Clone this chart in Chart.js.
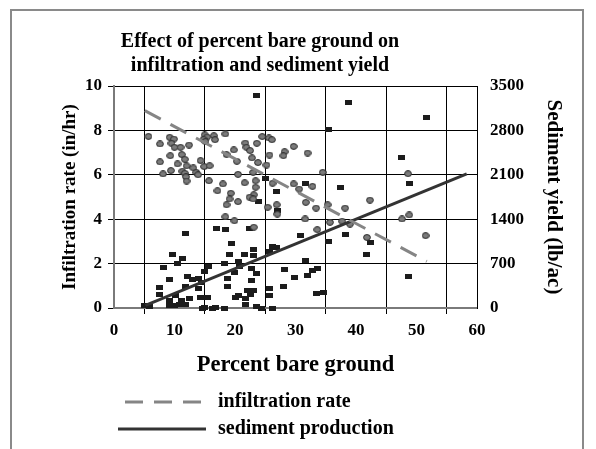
<!DOCTYPE html>
<html>
<head>
<meta charset="utf-8">
<script src="https://cdn.jsdelivr.net/npm/chart.js@4.4.0/dist/chart.umd.min.js"></script>
<style>
  html, body { margin: 0; padding: 0; background: #fff; }
  #wrap { width: 596px; height: 449px; position: relative; }
</style>
</head>
<body>
<div id="wrap"><canvas id="chart" width="596" height="449"></canvas></div>
<script>
// Titles and tick labels
const titleLines = ['Effect of percent bare ground on', 'infiltration and sediment yield'];
const xTickLabels = ['0', '10', '20', '30', '40', '50', '60'];
const yTickLabels = ['0', '2', '4', '6', '8', '10'];
const y2TickLabels = ['0', '700', '1400', '2100', '2800', '3500'];

// Infiltration rate (in/hr) against percent bare ground
const infilX = [5.7, 7.6, 9.2, 9.9, 9.5, 10.0, 11.0, 12.4, 11.2, 9.3, 11.7, 7.6, 10.5, 12.0, 13.1, 14.3,
  9.4, 11.3, 11.7, 8.1, 13.6, 13.9, 11.9, 12.0, 15.0, 15.4, 14.8, 15.1,
  16.5, 16.7, 18.4, 21.7, 21.9, 22.5, 23.6, 24.5, 25.6, 26.1, 19.8, 18.6, 22.8, 23.8, 25.7, 28.2, 28.0, 29.7,
  20.3, 14.9, 15.8, 25.2, 20.5, 23.0, 15.7, 18.0, 21.6, 23.4, 26.2, 29.7, 17.1, 19.3, 23.4, 23.1, 22.4, 23.0,
  19.1, 20.5, 18.6, 25.4, 26.9, 27.0, 18.4, 19.9, 23.1,
  32.0, 34.5, 30.6, 32.8, 31.7, 33.4, 35.3, 38.2, 42.3, 31.6, 33.6, 35.7, 37.7, 39.0, 41.8,
  48.6, 47.6, 48.8, 51.5];
const infilY = [7.73, 7.39, 7.69, 7.61, 7.42, 7.24, 7.24, 7.34, 6.91, 6.86, 6.70, 6.58, 6.49, 6.40, 6.31, 6.64,
  6.19, 6.16, 6.07, 6.04, 6.11, 6.00, 5.91, 5.72, 7.80, 7.70, 7.60, 7.50,
  7.76, 7.58, 7.84, 7.43, 7.24, 7.09, 7.42, 7.72, 7.66, 7.58, 7.12, 6.91, 6.76, 6.55, 6.89, 7.04, 6.86, 7.28,
  6.61, 6.37, 6.41, 6.44, 6.02, 6.11, 5.73, 5.59, 5.64, 5.73, 5.62, 5.59, 5.28, 5.17, 5.44, 5.10, 4.99, 4.91,
  4.91, 4.79, 4.65, 4.54, 4.65, 4.23, 4.11, 3.93, 3.64,
  6.98, 6.11, 5.36, 5.48, 4.76, 4.50, 4.65, 4.50, 4.86, 4.01, 3.53, 3.86, 3.91, 3.78, 3.18,
  6.05, 4.01, 4.19, 3.26];

// Sediment yield (lb/ac) against percent bare ground
const sedX = [11.9, 9.6, 11.4, 10.5, 8.1, 9.2, 12.1, 12.9, 13.9, 7.6, 7.6, 11.9, 13.9, 14.5, 9.2, 10.2,
  11.2, 12.4, 10.9, 11.9, 9.2, 10.0, 5.1, 5.9, 14.3, 14.7,
  15.7, 15.0, 15.4, 14.9, 16.7,
  23.5, 26.8, 27.0, 23.9, 25.0, 16.9, 18.4, 22.4, 19.4, 26.2, 26.9, 23.0, 19.1, 21.6, 25.7, 23.0, 20.5,
  18.2, 20.8, 22.8, 19.9, 23.6, 28.2, 22.8, 18.7, 18.7, 25.7, 28.0, 22.0, 23.0, 22.6, 25.7, 20.1, 20.5,
  21.7, 21.7, 23.6, 24.4, 26.2, 16.2, 18.3,
  38.8, 35.4, 31.6, 37.5, 30.8, 38.3, 35.5, 42.4, 41.8, 31.7, 33.6, 32.8, 32.0, 29.8, 33.4, 34.7,
  51.6, 47.6, 48.8, 48.6];
const sedY = [1172, 846, 773, 694, 631, 457, 500, 457, 468, 326, 205, 336, 315, 400, 126, 194,
  126, 153, 52, 63, 36, 36, 47, 20, 168, 0,
  662, 573, 168, 15, 10,
  3358, 1834, 1534, 1676, 2045, 1261, 1230, 1257, 1020, 973, 946, 920, 851, 851, 888, 825, 730,
  694, 651, 615, 562, 547, 604, 430, 468, 340, 300, 342, 273, 273, 205, 194, 168, 194,
  142, 63, 20, 0, 0, 0, 0,
  3237, 2822, 1955, 1892, 1140, 1151, 1051, 1025, 851, 746, 626, 599, 509, 473, 232, 247,
  3000, 2365, 1955, 493];

// Fitted trend lines (end points)
const infilTrendX = [5.1, 51.7];
const infilTrendY = [8.89, 2.1];
const sedTrendX = [5.2, 58.3];
const sedTrendY = [40, 2113];

const FONT = '"Liberation Serif", "Times New Roman", serif';

function pairs(xs, ys) { return xs.map((x, i) => ({ x: x, y: ys[i] })); }

function makeDot(w, h, fill, stroke) {
  const c = document.createElement('canvas');
  c.width = w; c.height = h;
  const g = c.getContext('2d');
  g.beginPath();
  g.ellipse(w / 2, h / 2, w / 2 - 0.6, h / 2 - 0.6, 0, 0, Math.PI * 2);
  g.fillStyle = fill; g.fill();
  g.lineWidth = 1; g.strokeStyle = stroke; g.stroke();
  return c;
}
function makeBlock(w, h, fill) {
  const c = document.createElement('canvas');
  c.width = w; c.height = h;
  const g = c.getContext('2d');
  g.fillStyle = fill; g.fillRect(0, 0, w, h);
  return c;
}

const dotMark = makeDot(8, 7, '#7b7b7b', '#262626');
const blockMark = makeBlock(7, 5, '#1c1c1c');

// Frame, two-line heading and the line legend underneath the axes
const decorations = {
  id: 'decorations',
  beforeDraw(chart) {
    const ctx = chart.ctx;
    ctx.save();
    ctx.fillStyle = '#fff';
    ctx.fillRect(0, 0, chart.width, chart.height);
    ctx.strokeStyle = '#8a8a8a';
    ctx.lineWidth = 2;
    ctx.beginPath();
    ctx.moveTo(11, chart.height + 2);
    ctx.lineTo(11, 10);
    ctx.lineTo(583, 10);
    ctx.lineTo(583, chart.height + 2);
    ctx.stroke();
    ctx.restore();
  },
  afterDraw(chart) {
    const ctx = chart.ctx;
    ctx.save();
    ctx.fillStyle = '#000';
    ctx.font = 'bold 20px ' + FONT;
    ctx.textAlign = 'center';
    ctx.textBaseline = 'alphabetic';
    ctx.fillText(titleLines[0], 260, 47);
    ctx.fillText(titleLines[1], 260, 71);

    const rows = chart.data.datasets.filter(d => d.showInKey);
    rows.forEach((d, i) => {
      const yLine = 402 + i * 27;
      ctx.beginPath();
      ctx.setLineDash(d.borderDash || []);
      ctx.lineDashOffset = 0;
      ctx.strokeStyle = d.borderColor;
      ctx.lineWidth = d.borderWidth;
      ctx.moveTo(d.borderDash ? 125 : 118, yLine);
      ctx.lineTo(206, yLine);
      ctx.stroke();
      ctx.setLineDash([]);
      ctx.fillStyle = '#000';
      ctx.textAlign = 'left';
      ctx.font = 'bold 20px ' + FONT;
      ctx.fillText(d.label, 218, yLine + 5);
    });
    ctx.restore();
  }
};

new Chart(document.getElementById('chart'), {
  type: 'scatter',
  data: {
    datasets: [
      {
        label: 'infiltration rate',
        type: 'line',
        data: pairs(infilTrendX, infilTrendY),
        yAxisID: 'y',
        borderColor: '#858585',
        borderWidth: 3,
        borderDash: [18, 11],
        pointRadius: 0,
        fill: false,
        showInKey: true,
        order: 1
      },
      {
        label: 'sediment production',
        type: 'line',
        data: pairs(sedTrendX, sedTrendY),
        yAxisID: 'y2',
        borderColor: '#333',
        borderWidth: 3,
        pointRadius: 0,
        fill: false,
        showInKey: true,
        order: 1
      },
      {
        label: 'Infiltration',
        data: pairs(infilX, infilY),
        yAxisID: 'y',
        pointStyle: dotMark,
        pointRadius: 4,
        clip: false,
        order: 2
      },
      {
        label: 'Sediment',
        data: pairs(sedX, sedY),
        yAxisID: 'y2',
        pointStyle: blockMark,
        pointRadius: 4,
        clip: false,
        order: 2
      }
    ]
  },
  options: {
    responsive: false,
    animation: false,
    devicePixelRatio: 1,
    layout: { padding: { top: 86, bottom: 70, left: 0, right: 0 } },
    plugins: {
      legend: { display: false },
      title: { display: false },
      tooltip: { enabled: false }
    },
    scales: {
      x: {
        type: 'linear',
        position: 'bottom',
        min: 0, max: 60,
        afterBuildTicks(scale) {
          const t = [];
          for (let v = 0; v <= 60; v += 5) t.push({ value: v });
          scale.ticks = t;
        },
        afterFit(scale) { scale.height = 71; },
        ticks: {
          autoSkip: false, maxRotation: 0, minRotation: 0,
          color: '#000', padding: 6,
          font: { family: FONT, size: 17, weight: 'bold' },
          callback: (v) => (v % 10 === 0 ? xTickLabels[v / 10] : '')
        },
        grid: {
          lineWidth: 1,
          tickLength: 6,
          color: (c) => (c.tick && (c.tick.value % 10 === 5 || c.tick.value === 60) ? '#000' : 'rgba(0,0,0,0)'),
          tickColor: (c) => (c.tick && c.tick.value % 10 === 5 ? '#000' : 'rgba(0,0,0,0)')
        },
        border: { color: '#7a7a7a', width: 2 },
        title: {
          display: true, text: 'Percent bare ground', color: '#000',
          font: { family: FONT, size: 22.5, weight: 'bold' },
          padding: { top: 0, bottom: 0 }
        }
      },
      y: {
        position: 'left',
        min: 0, max: 10,
        afterBuildTicks(scale) {
          scale.ticks = yTickLabels.map(s => ({ value: Number(s) }));
        },
        afterFit(scale) { scale.width = 114; },
        ticks: {
          color: '#000', padding: 6,
          font: { family: FONT, size: 17, weight: 'bold' },
          callback: (v) => yTickLabels[v / 2]
        },
        grid: {
          lineWidth: 1,
          tickLength: 6,
          color: (c) => (c.tick && c.tick.value === 0 ? 'rgba(0,0,0,0)' : '#000'),
          tickColor: '#000'
        },
        border: { color: '#7a7a7a', width: 2 },
        title: {
          display: true, text: 'Infiltration rate (in/hr)', color: '#000',
          font: { family: FONT, size: 19, weight: 'bold' },
          padding: { top: 58.6, bottom: 0 }
        }
      },
      y2: {
        position: 'right',
        min: 0, max: 3500,
        afterBuildTicks(scale) {
          scale.ticks = y2TickLabels.map(s => ({ value: Number(s) }));
        },
        afterFit(scale) { scale.width = 119; },
        ticks: {
          color: '#000', padding: 13,
          font: { family: FONT, size: 17, weight: 'bold' },
          callback: (v) => y2TickLabels[v / 700]
        },
        grid: { drawOnChartArea: false, drawTicks: false },
        border: { color: '#000', width: 1 },
        title: {
          display: true, text: 'Sediment yield (lb/ac)', color: '#000',
          font: { family: FONT, size: 21, weight: 'bold' },
          padding: { top: 30.4, bottom: 0 }
        }
      }
    }
  },
  plugins: [decorations]
});
</script>
</body>
</html>
